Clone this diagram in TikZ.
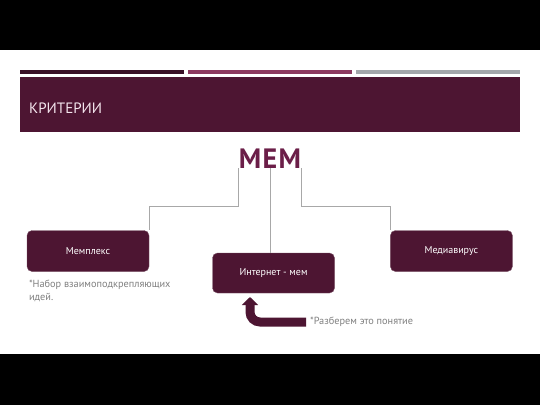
\documentclass[tikz,border=0pt]{standalone}
\usepackage{fontspec}
\setmainfont{PT Sans}
\usetikzlibrary{arrows.meta,positioning}
\definecolor{wine}{HTML}{4D1532}
\definecolor{memtext}{HTML}{6B1E48}
\definecolor{bardark}{HTML}{3A1027}
\definecolor{barpink}{HTML}{8C3A60}
\definecolor{bargray}{HTML}{A3A7AB}
\definecolor{linegray}{HTML}{A8A8A8}
\definecolor{notegray}{HTML}{808080}
\definecolor{titletext}{HTML}{F4E6EE}

\begin{document}
\begin{tikzpicture}[x=1pt,y=-1pt,
  topic/.style={rectangle, rounded corners=5pt, fill=wine, draw=wine!75!white, line width=0.4pt,
    text=white, minimum width=122pt, minimum height=41pt, font=\fontsize{10}{12}\selectfont},
  note/.style={text=notegray, inner sep=0pt, font=\fontsize{10.3}{13}\selectfont},
  link/.style={draw=linegray, line width=0.9pt},
  bigarrow/.style={wine, line width=9pt, rounded corners=10pt, -{Triangle[length=8pt,width=16pt]}}]
  \useasboundingbox (0,0) rectangle (540,405);
  \fill[white] (0,0) rectangle (540,405);
  \fill[black] (0,0) rectangle (540,50);
  \fill[black] (0,354) rectangle (540,405);

  \fill[bardark] (20,70) rectangle (184,74);
  \fill[barpink] (188,70) rectangle (352,74);
  \fill[bargray] (356,70) rectangle (520,74);
  \fill[wine] (20,77) rectangle (520,132);
  \node[anchor=west, inner sep=0pt, text=titletext, font=\fontsize{15}{18}\selectfont] (title) at (29,108) {КРИТЕРИИ};

  \node[anchor=base, inner sep=0pt, text=memtext,
    font=\fontsize{28}{32}\bfseries\addfontfeature{LetterSpace=5}] (mem) at (270,168) {МЕМ};

  \node[topic] (memplex) at (88,251) {Мемплекс};
  \node[topic, right=241pt of memplex] (mediavirus) {Медиавирус};
  \node[topic, minimum height=40pt] (inet) at (273.5,273) {Интернет - мем};

  \draw[link] (mem.south west) -- ++(0,38) -| (memplex.north east);
  \draw[link] (mem.south) -- (mem.south |- inet.north);
  \draw[link] (mem.south east) -- ++(0,38) -| (mediavirus.north west);

  \node[note, anchor=north west, align=left] (setnote) at ([xshift=2pt,yshift=-8pt]memplex.south west)
    {*Набор взаимоподкрепляющих\\идей.};
  \node[note, anchor=west] (inetnote) at (310,322) {*Разберем это понятие};
  \coordinate (tip) at (250,297);
  \draw[bigarrow] ([xshift=-4pt]inetnote.west) -| (tip);
\end{tikzpicture}
\end{document}
